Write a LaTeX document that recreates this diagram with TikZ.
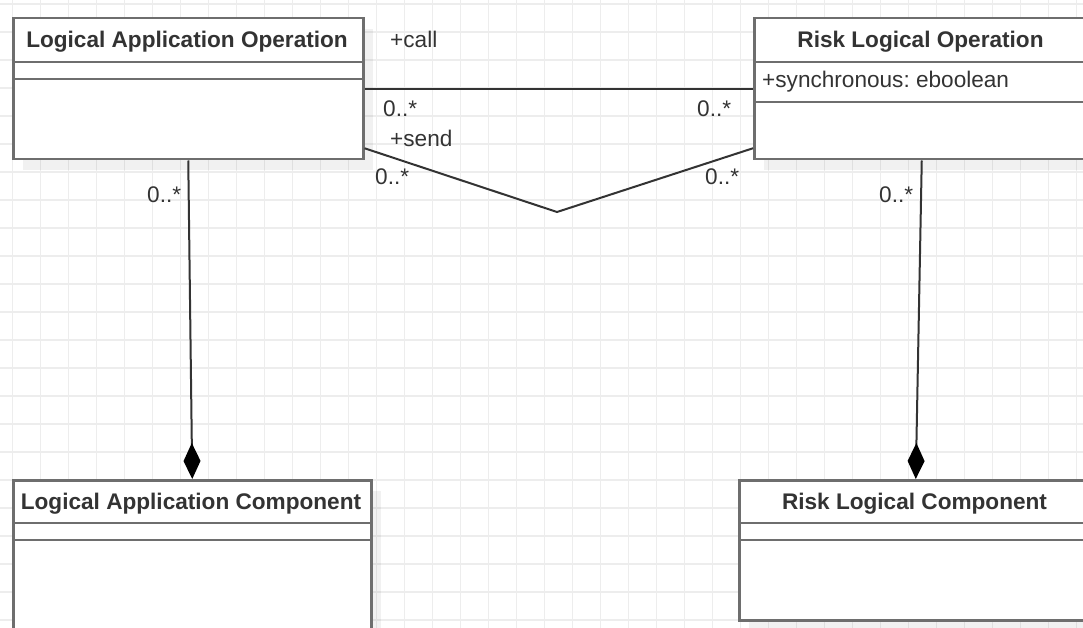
\documentclass[tikz,border=0pt]{standalone}
\usepackage{fontspec}
\setmainfont{Liberation Sans}
\frenchspacing
\usetikzlibrary{arrows.meta}
\definecolor{txt}{HTML}{333333}
\definecolor{boxline}{HTML}{6E6E6E}
\definecolor{gridc}{HTML}{EDEDED}
\begin{document}
\begin{tikzpicture}[x=1pt,y=-1pt,
  every node/.style={font=\fontsize{22.6}{27}\selectfont, text=txt, inner sep=0pt},
  classbox/.style={draw=boxline, line width=2.5pt, fill=white, anchor=north west, inner sep=0pt},
  classtitle/.style={font=\fontsize{22.6}{27}\selectfont\bfseries, anchor=base},
  mult/.style={anchor=base west},
  sep/.style={draw=boxline, line width=2.5pt},
  assoc/.style={draw=txt, line width=2pt},
  comp/.style={assoc, -{Diamond[length=36pt,width=17pt,color=black,fill=black]}},
  shadowbox/.style={fill=black, opacity=0.055},
  ]
\useasboundingbox (0,0) rectangle (1083,628);
\clip (0,0) rectangle (1083,628);
% grid
\foreach \i in {0,...,38} \draw[gridc, line width=1.5pt] (12.5+28*\i,0) -- ++(0,628);
\foreach \j in {0,...,22} \draw[gridc, line width=1.5pt] (0,4+28*\j) -- ++(1083,0);
% shadows
\fill[shadowbox] (23,29) rectangle ++(350,141);
\fill[shadowbox] (764,29) rectangle ++(335,141);
\fill[shadowbox] (23,491) rectangle ++(358,170);
\fill[shadowbox] (749,491) rectangle ++(353,140);
% boxes
\node[classbox, minimum width=350pt, minimum height=141pt] (lao) at (12,17) {};
\node[classbox, minimum width=335pt, minimum height=141pt] (rlo) at (753,17) {};
\node[classbox, minimum width=358pt, minimum height=170pt] (lac) at (12,479) {};
\node[classbox, minimum width=353pt, minimum height=140pt] (rlc) at (738,479) {};
% compartments
\draw[sep] (lao.west |- 0,62) -- (lao.east |- 0,62);
\draw[sep] (lao.west |- 0,79) -- (lao.east |- 0,79);
\draw[sep] (rlo.west |- 0,62) -- (rlo.east |- 0,62);
\draw[sep] (rlo.west |- 0,102) -- (rlo.east |- 0,102);
\draw[sep] (lac.west |- 0,523) -- (lac.east |- 0,523);
\draw[sep] (lac.west |- 0,540) -- (lac.east |- 0,540);
\draw[sep] (rlc.west |- 0,523) -- (rlc.east |- 0,523);
\draw[sep] (rlc.west |- 0,540) -- (rlc.east |- 0,540);
% texts
\node[classtitle] (laot) at (187,48) {Logical Application Operation};
\node[classtitle] (rlot) at (920.5,48) {Risk Logical Operation};
\node[anchor=base west] (rloa) at (762,88) {+synchronous: eboolean};
\node[classtitle] (lact) at (191,509) {Logical Application Component};
\node[classtitle] (rlct) at (914.5,509) {Risk Logical Component};
% connectors
\coordinate (v) at (557,212);
\draw[assoc] (lao.east) -- (rlo.west);
\draw[assoc] ([yshift=-59.5pt]lao.east) -- (v) -- ([yshift=-59.5pt]rlo.west);
\draw[comp] (lao.south) -- (lac.north);
\draw[comp] (rlo.south) -- (rlc.north);
% labels
\node[mult] (callL) at (390,48) {+call};
\node[mult] (m1) at (383,117) {0..*};
\node[mult] (sendL) at (390,147) {+send};
\node[mult] (m2) at (375,185) {0..*};
\node[mult] (m3) at (697,117) {0..*};
\node[mult] (m4) at (705,185) {0..*};
\node[mult] (m5) at (147,203) {0..*};
\node[mult] (m6) at (879,203) {0..*};
\end{tikzpicture}
\end{document}
